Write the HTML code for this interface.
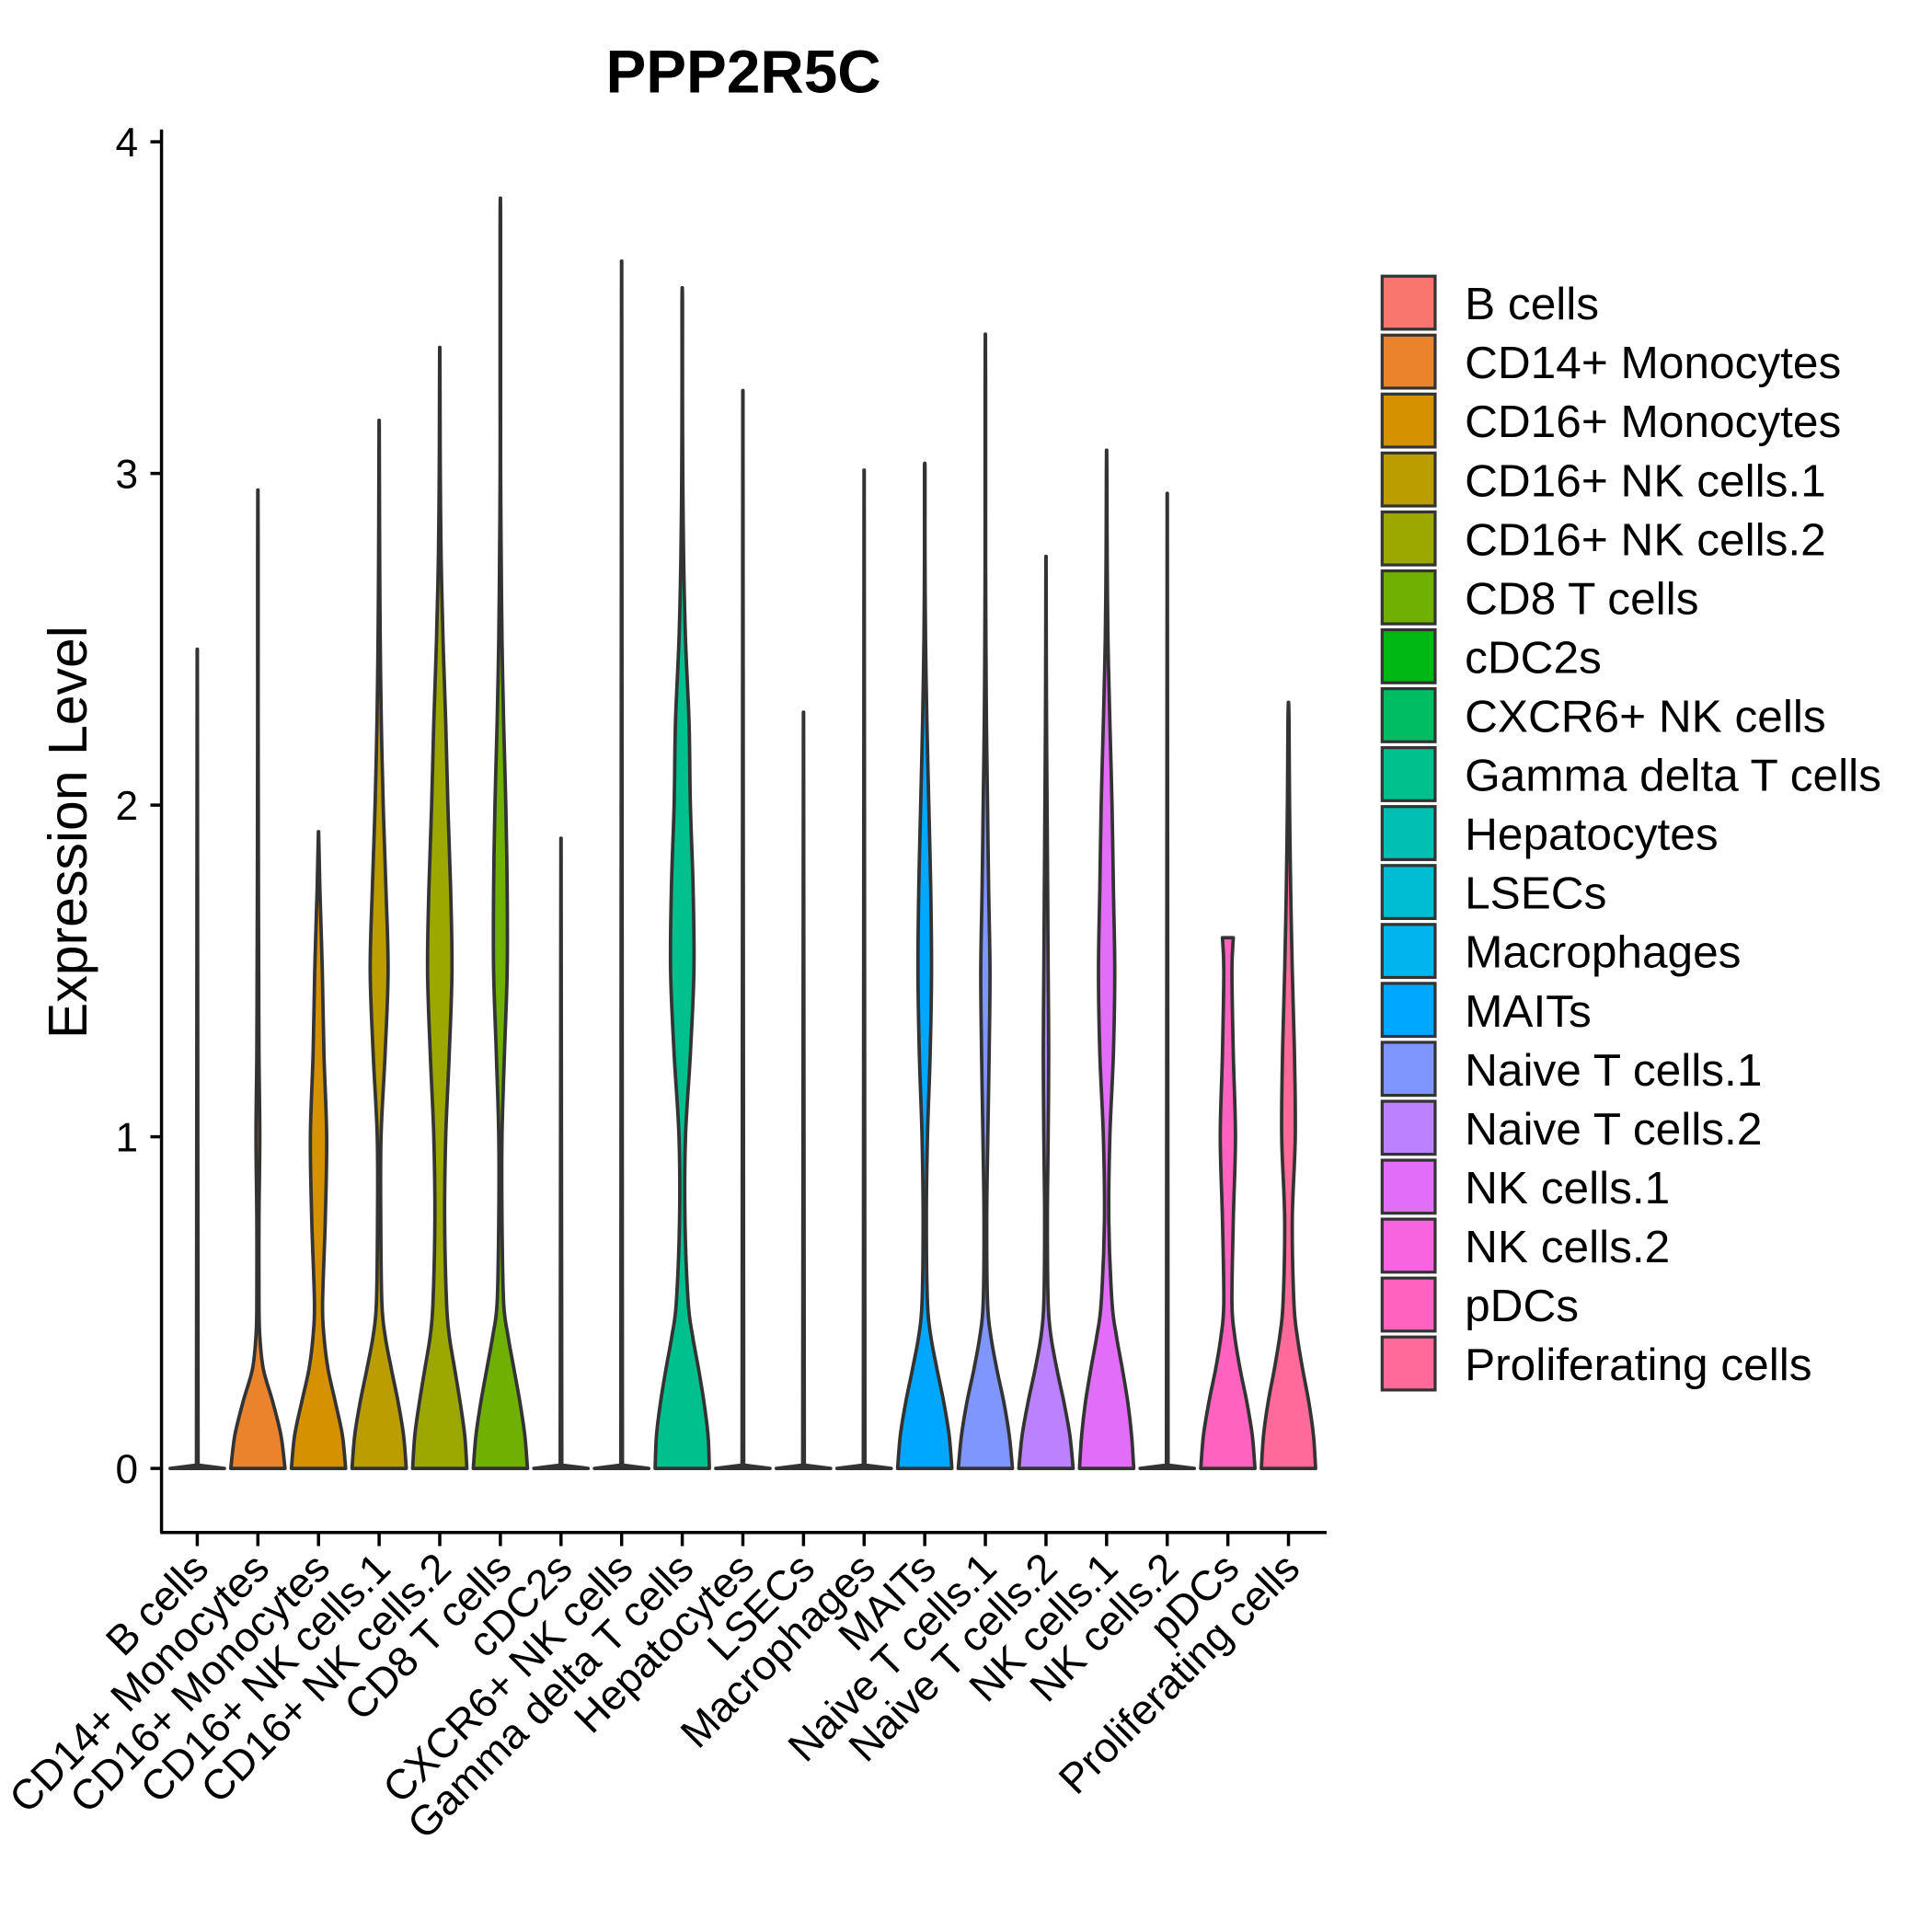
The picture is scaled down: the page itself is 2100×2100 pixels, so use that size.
<!DOCTYPE html>
<html><head><meta charset="utf-8"><style>
html,body{margin:0;padding:0;background:#fff;}
svg{display:block;}
text{font-family:"Liberation Sans",Arial,sans-serif;fill:#000;}
</style></head>
<body>
<svg id="chart" width="2100" height="2100" viewBox="0 0 1567 1567" xmlns="http://www.w3.org/2000/svg">
<text x="603" y="75" font-size="49" font-weight="bold" text-anchor="middle">PPP2R5C</text>
<text transform="translate(70,675) rotate(-90)" font-size="44" text-anchor="middle">Expression Level</text>
<g id="plot"></g>
<g id="legend"></g>
</svg>
<script>
const categories = ["B cells","CD14+ Monocytes","CD16+ Monocytes","CD16+ NK cells.1","CD16+ NK cells.2","CD8 T cells","cDC2s","CXCR6+ NK cells","Gamma delta T cells","Hepatocytes","LSECs","Macrophages","MAITs","Naive T cells.1","Naive T cells.2","NK cells.1","NK cells.2","pDCs","Proliferating cells"];
const colors = ["#F8766D","#E9842C","#D69100","#BC9D00","#9CA700","#6FB000","#00B813","#00BD61","#00C08E","#00C0B4","#00BDD4","#00B5EE","#00A7FF","#7F96FF","#BC81FF","#E26EF7","#F863DF","#FF62BF","#FF6A9A"];
const maxValues = [2.47,2.95,1.92,3.16,3.38,3.83,1.9,3.64,3.56,3.25,2.28,3.01,3.03,3.42,2.75,3.07,2.94,1.6,2.31];
const yTicks = [0,1,2,3,4];
const gridLevels = [0,0.1,0.2,0.3,0.4,0.5,0.75,1,1.25,1.5,1.75,2,2.25,2.5,2.75,3,3.25,3.5,3.75];
const zeroLevels = [0,0.01];
const densZero = [1,0.03];
const densCD14 = [1,0.85,0.55,0.2,0.07,0.04,0.04,0.07,0.04,0.03,0.02,0.015,0.01,0.01,0.01];
const densCD16M = [1,0.88,0.62,0.35,0.2,0.15,0.25,0.3,0.2,0.14,0.05,0.02];
const densNK1 = [1,0.9,0.7,0.45,0.22,0.1,0.06,0.07,0.22,0.33,0.25,0.15,0.08,0.04,0.02,0.01,0.01];
const densNK2 = [1,0.92,0.75,0.55,0.35,0.25,0.18,0.22,0.35,0.45,0.4,0.3,0.22,0.12,0.05,0.02,0.01,0.01];
const densCD8 = [1,0.9,0.72,0.5,0.28,0.12,0.06,0.06,0.15,0.25,0.25,0.2,0.12,0.06,0.03,0.01,0.01,0.01,0.01];
const densGD = [1,0.95,0.8,0.6,0.38,0.22,0.1,0.12,0.3,0.43,0.4,0.3,0.25,0.12,0.05,0.02,0.01,0.01];
const densMAIT = [1,0.9,0.7,0.45,0.22,0.1,0.06,0.1,0.2,0.25,0.22,0.15,0.08,0.03,0.01,0.01];
const densNT1 = [1,0.88,0.68,0.42,0.2,0.08,0.05,0.09,0.14,0.17,0.12,0.08,0.04,0.02,0.01,0.01,0.01,0.01];
const densNT2 = [1,0.88,0.66,0.4,0.18,0.08,0.05,0.08,0.1,0.08,0.06,0.04,0.02,0.01,0.01];
const densNKc1 = [1,0.92,0.78,0.58,0.36,0.2,0.08,0.12,0.25,0.3,0.25,0.2,0.12,0.05,0.02,0.01];
const densPDC = [1,0.9,0.7,0.45,0.25,0.15,0.2,0.28,0.2,0.15];
const densProl = [1,0.92,0.75,0.52,0.32,0.2,0.14,0.25,0.22,0.14,0.08,0.04,0.02];
const densities = [densZero,densCD14,densCD16M,densNK1,densNK2,densCD8,densZero,densZero,densGD,densZero,densZero,densZero,densMAIT,densNT1,densNT2,densNKc1,densZero,densPDC,densProl];

const NS="http://www.w3.org/2000/svg";
const plot=document.getElementById('plot');
const y0=1191, yUnit=269, x0=160, xStep=49.17, halfW=22;
const yScale=v=>y0-v*yUnit;
const xScale=i=>x0+i*xStep;
function mk(tag,attrs,parent){const e=document.createElementNS(NS,tag);for(const k in attrs)e.setAttribute(k,attrs[k]);parent.appendChild(e);return e;}
function smooth(pts){
  let s='';
  for(let i=0;i<pts.length-1;i++){
    const p0=pts[Math.max(0,i-1)],p1=pts[i],p2=pts[i+1],p3=pts[Math.min(pts.length-1,i+2)];
    const c1=[p1[0]+(p2[0]-p0[0])/6,p1[1]+(p2[1]-p0[1])/6];
    const c2=[p2[0]-(p3[0]-p1[0])/6,p2[1]-(p3[1]-p1[1])/6];
    s+=` C${c1[0].toFixed(2)},${c1[1].toFixed(2)} ${c2[0].toFixed(2)},${c2[1].toFixed(2)} ${p2[0].toFixed(2)},${p2[1].toFixed(2)}`;
  }
  return s;
}
function linear(pts){return pts.slice(1).map(p=>` L${p[0].toFixed(2)},${p[1].toFixed(2)}`).join('');}

let ax=mk('line',{x1:131,y1:105,x2:131,y2:1243,stroke:'#000','stroke-width':2.6},plot);


let bx=mk('line',{x1:130,y1:1243,x2:1076,y2:1243,stroke:'#000','stroke-width':2.6},plot);


yTicks.forEach(t=>{
  const y=yScale(t);
  const tk=mk('line',{x1:122,y1:y,x2:131,y2:y,stroke:'#000','stroke-width':2.6},plot);
  
  
  const tl=mk('text',{x:112,y:y+12,'font-size':33,'text-anchor':'end'},plot);
  tl.textContent=t;
  
  
});

categories.forEach((c,i)=>{
  const x=xScale(i);
  const d=densities[i], mx=maxValues[i];
  const isZero = d===densZero;
  const levels = isZero ? zeroLevels : gridLevels;
  const lv=[], ws=[];
  for(let k=0;k<d.length;k++){ if(levels[k]<mx){lv.push(levels[k]);ws.push(d[k]);} }
  lv.push(mx); ws.push(i===17?0.2:0.004);
  const right=lv.map((l,k)=>[x+ws[k]*halfW,yScale(l)]);
  const left=lv.map((l,k)=>[x-ws[k]*halfW,yScale(l)]).reverse();
  const f = isZero ? linear : smooth;
  let p='M'+left[left.length-1][0].toFixed(2)+','+right[0][1].toFixed(2)+' L'+right[0][0].toFixed(2)+','+right[0][1].toFixed(2);
  p+=f(right);
  p+=' L'+left[0][0].toFixed(2)+','+left[0][1].toFixed(2);
  p+=f(left)+'Z';
  const v=mk('path',{d:p,fill:colors[i],stroke:'#333','stroke-width':2.8,'stroke-linejoin':'round'},plot);
  
  
  const tk=mk('line',{x1:x,y1:1243,x2:x,y2:1254,stroke:'#000','stroke-width':2.6},plot);
  
  
  const tl=mk('text',{transform:`translate(${x+11},${1274}) rotate(-45)`,'font-size':34,'text-anchor':'end'},plot);
  tl.textContent=c;
  
  
});

const lg=document.getElementById('legend');
categories.forEach((c,i)=>{
  const y=224+i*47.8;
  const r=mk('rect',{x:1121,y:y,width:43,height:43,fill:colors[i],stroke:'#333','stroke-width':2.4},lg);
  
  
  const t=mk('text',{x:1188,y:y+35,'font-size':37},lg);
  t.textContent=c;
  
  
});
</script>
</body></html>
